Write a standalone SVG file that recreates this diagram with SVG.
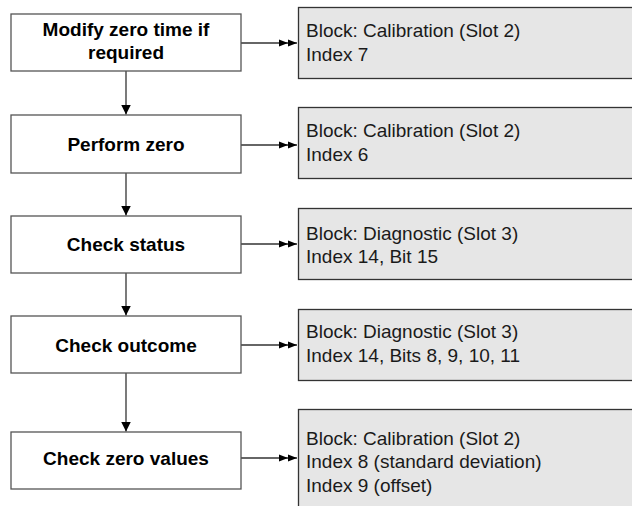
<svg xmlns="http://www.w3.org/2000/svg" width="632" height="506" viewBox="0 0 632 506">
<style>
.step{fill:#fff;stroke:#555;stroke-width:1.3}
.info{fill:#e6e6e6;stroke:#333;stroke-width:1.3}
.st{font-family:"Liberation Sans",Arial,sans-serif;font-weight:bold;font-size:19px;fill:#000;text-anchor:middle}
.it{font-family:"Liberation Sans",Arial,sans-serif;font-size:19px;fill:#1a1a1a}
.ln{stroke:#333;stroke-width:1.3;fill:none}
</style>
<defs>
<marker id="a1" markerUnits="userSpaceOnUse" markerWidth="10" markerHeight="10" refX="10" refY="5" orient="auto"><path d="M0,0 L10,5 L0,10 z" fill="#000"/></marker>
<marker id="a2" markerUnits="userSpaceOnUse" markerWidth="18" markerHeight="8" refX="18" refY="4" orient="auto"><path d="M0,0.5 L9,4 L0,7.5 z M9,0.5 L18,4 L9,7.5 z" fill="#000"/></marker>
</defs>
<g id="connectors">
<line class="ln" x1="126" y1="71" x2="126" y2="114.5" marker-end="url(#a1)"/>
<line class="ln" x1="126" y1="173" x2="126" y2="215.5" marker-end="url(#a1)"/>
<line class="ln" x1="126" y1="273" x2="126" y2="315.5" marker-end="url(#a1)"/>
<line class="ln" x1="126" y1="373" x2="126" y2="431.5" marker-end="url(#a1)"/>
<line class="ln" x1="241" y1="43" x2="297" y2="43" marker-end="url(#a2)"/>
<line class="ln" x1="241" y1="145" x2="297" y2="145" marker-end="url(#a2)"/>
<line class="ln" x1="241" y1="244" x2="297" y2="244" marker-end="url(#a2)"/>
<line class="ln" x1="241" y1="345" x2="297" y2="345" marker-end="url(#a2)"/>
<line class="ln" x1="241" y1="458" x2="297" y2="458" marker-end="url(#a2)"/>
</g>
<g id="step1"><rect class="step" x="11" y="14" width="230" height="57"/><text class="st" x="126" y="36">Modify zero time if</text><text class="st" x="126" y="59">required</text></g>
<g id="step2"><rect class="step" x="11" y="115" width="230" height="58"/><text class="st" x="126" y="150.5">Perform zero</text></g>
<g id="step3"><rect class="step" x="11" y="216" width="230" height="57"/><text class="st" x="126" y="250.5">Check status</text></g>
<g id="step4"><rect class="step" x="11" y="316" width="230" height="57"/><text class="st" x="126" y="351.5">Check outcome</text></g>
<g id="step5"><rect class="step" x="11" y="432" width="230" height="57"/><text class="st" x="126" y="465">Check zero values</text></g>
<g id="info1"><rect class="info" x="298.5" y="7.5" width="340" height="71"/><text class="it" x="306" y="37.3">Block: Calibration (Slot 2)</text><text class="it" x="306" y="60.7">Index 7</text></g>
<g id="info2"><rect class="info" x="298.5" y="107.5" width="340" height="71"/><text class="it" x="306" y="137.3">Block: Calibration (Slot 2)</text><text class="it" x="306" y="160.7">Index 6</text></g>
<g id="info3"><rect class="info" x="298.5" y="208.5" width="340" height="71"/><text class="it" x="306" y="240">Block: Diagnostic (Slot 3)</text><text class="it" x="306" y="263.3">Index 14, Bit 15</text></g>
<g id="info4"><rect class="info" x="298.5" y="309.5" width="340" height="71"/><text class="it" x="306" y="338.3">Block: Diagnostic (Slot 3)</text><text class="it" x="306" y="361.7">Index 14, Bits 8, 9, 10, 11</text></g>
<g id="info5"><rect class="info" x="298.5" y="409.5" width="340" height="110"/><text class="it" x="306" y="445">Block: Calibration (Slot 2)</text><text class="it" x="306" y="468.3">Index 8 (standard deviation)</text><text class="it" x="306" y="491.7">Index 9 (offset)</text></g>
</svg>
